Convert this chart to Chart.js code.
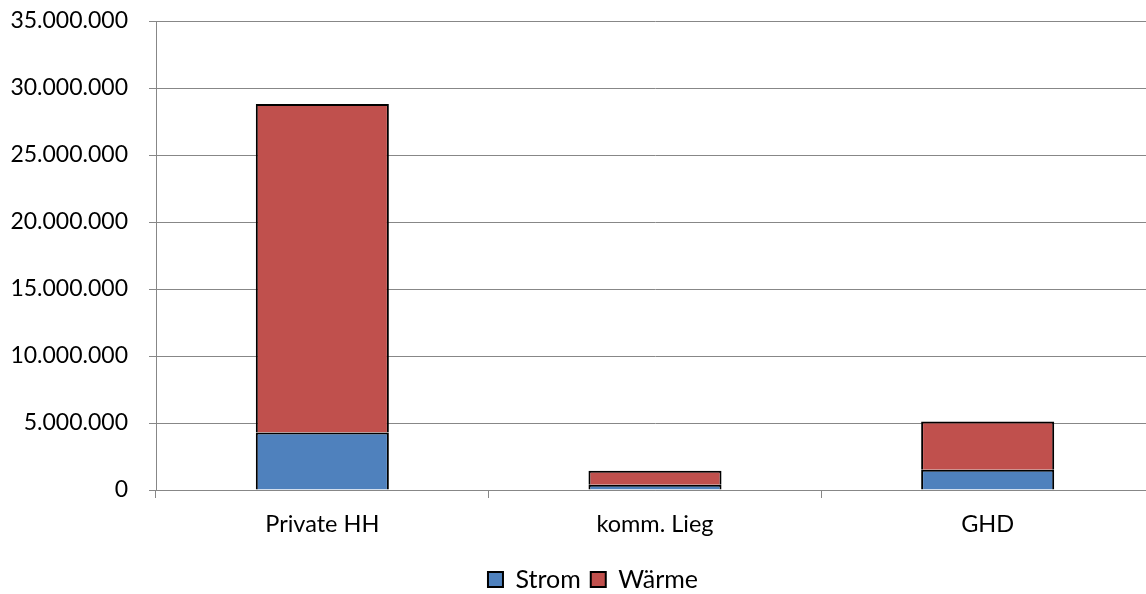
<!DOCTYPE html>
<html>
<head>
<meta charset="utf-8">
<script src="https://cdn.jsdelivr.net/npm/chart.js@4.4.1/dist/chart.umd.min.js"></script>
<style>
  html, body { margin: 0; padding: 0; background: #fff; overflow: hidden; }
  #wrap { width: 1154px; height: 594px; position: relative; }
</style>
</head>
<body>
<div id="wrap"><canvas id="chart"></canvas></div>
<script>
// Energy consumption by sector, split into electricity and heat
const categories = ['Private HH', 'komm. Lieg', 'GHD'];
const strom = [4300000, 400000, 1520000];
const waerme = [24510000, 1040000, 3590000];
const seriesNames = ['Strom', 'Wärme'];
const yMax = 35000000;
const yStep = 5000000;

const FONT = 'Lato, "Open Sans", "DejaVu Sans", sans-serif';
const GRID = '#878787';

function fmtDots(v) {
  return String(Math.round(v)).replace(/\B(?=(\d{3})+(?!\d))/g, '.');
}

// Nudge the legend a little to the right of the canvas centre
const legendShift = {
  id: 'legendShift',
  afterLayout(chart) {
    const lg = chart.legend;
    if (!lg) return;
    const dx = 16;
    lg.left += dx;
    lg.right += dx;
  }
};

new Chart(document.getElementById('chart'), {
  type: 'bar',
  data: {
    labels: categories,
    datasets: [
      {
        label: seriesNames[0],
        data: strom,
        backgroundColor: '#4F81BD',
        borderColor: '#000000',
        borderWidth: 2,
        borderSkipped: 'bottom'
      },
      {
        label: seriesNames[1],
        data: waerme,
        backgroundColor: '#C0504D',
        borderColor: '#000000',
        borderWidth: 2,
        borderSkipped: 'bottom'
      }
    ]
  },
  plugins: [legendShift],
  options: {
    responsive: true,
    maintainAspectRatio: false,
    animation: false,
    devicePixelRatio: 1,
    layout: { padding: { top: 21, right: 0, bottom: -8, left: 0 } },
    datasets: { bar: { categoryPercentage: 1.0, barPercentage: 0.4 } },
    plugins: {
      tooltip: { enabled: false },
      legend: {
        position: 'bottom',
        labels: {
          font: { family: FONT, size: 25 },
          color: '#000',
          boxWidth: 15,
          boxHeight: 15,
          padding: 10
        }
      }
    },
    scales: {
      x: {
        stacked: true,
        offset: true,
        grid: {
          display: true,
          offset: true,
          drawOnChartArea: false,
          drawTicks: true,
          tickLength: 8,
          color: GRID
        },
        border: { display: true, color: GRID },
        ticks: {
          font: { family: FONT, size: 23.5 },
          color: '#000',
          padding: 12,
          maxRotation: 0
        },
        afterFit(scale) { scale.height = 67; }
      },
      y: {
        stacked: true,
        min: 0,
        max: yMax,
        grid: {
          color: GRID,
          lineWidth: 1,
          drawTicks: true,
          tickLength: 7
        },
        border: { display: true, color: GRID },
        ticks: {
          stepSize: yStep,
          font: { family: FONT, size: 23 },
          color: '#000',
          padding: 21,
          callback: (v) => fmtDots(v)
        },
        afterFit(scale) {
          scale.width = 156;
          scale.paddingTop = 0;
          scale.paddingBottom = 0;
        }
      }
    }
  }
});
</script>
</body>
</html>
